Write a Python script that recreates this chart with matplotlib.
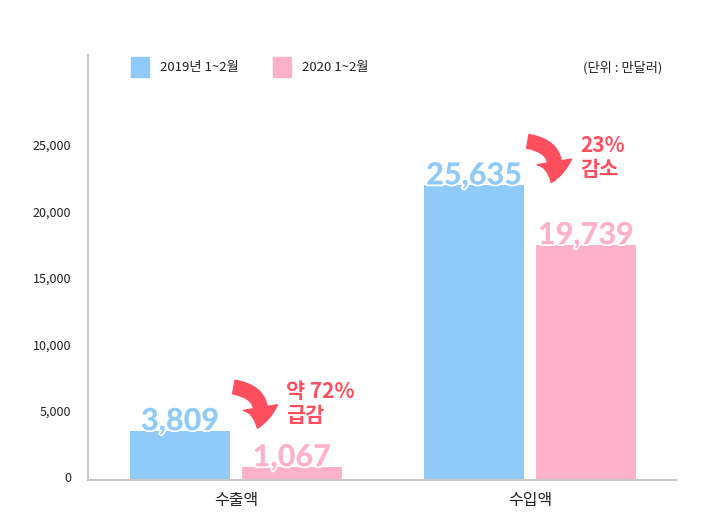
import matplotlib
matplotlib.use('Agg')
import matplotlib.pyplot as plt
import matplotlib.patheffects as pe
import matplotlib.transforms as mtransforms
from matplotlib.patches import FancyArrowPatch, Rectangle

plt.rcParams['font.family'] = ['Noto Sans CJK KR', 'DejaVu Sans']

# data
categories = ['수출액', '수입액']
series_names = ['2019년 1~2월', '2020 1~2월']
# bar heights as drawn against the y axis
heights_2019 = [3700, 22200]
heights_2020 = [980, 17700]
# value labels printed on the bars
labels_2019 = ['3,809', '25,635']
labels_2020 = ['1,067', '19,739']
change_notes = ['약 72%\n급감', '23%\n감소']
yticks = [0, 5000, 10000, 15000, 20000, 25000]

blue = '#90CAF9'
pink = '#FFB0CB'
red = '#FF4F5E'
grid_gray = '#c8c8c8'

fig = plt.figure(figsize=(7.1, 5.31), dpi=100)
ax = fig.add_axes([88 / 710, 51 / 531, 588 / 710, 425 / 531])

bw = 0.34
off = 0.19
x = list(range(len(categories)))
ax.bar([i - off for i in x], heights_2019, width=bw, color=blue, zorder=2)
ax.bar([i + off for i in x], heights_2020, width=bw, color=pink, zorder=2)

ax.set_xlim(-0.503, 1.497)
ax.set_ylim(0, 32000)

stroke = [pe.withStroke(linewidth=2.5, foreground='white')]
num_font = ['Lato', 'DejaVu Sans']
for i in x:
    ax.text(i - off, heights_2019[i] + 50, labels_2019[i], ha='center', va='baseline',
            fontsize=22, fontweight='black', color=blue, zorder=3,
            family=num_font, path_effects=stroke)
    ax.text(i + off, heights_2020[i] + 50, labels_2020[i], ha='center', va='baseline',
            fontsize=22, fontweight='black', color=pink, zorder=3,
            family=num_font, path_effects=stroke)

    # curved arrow between the two bars
    top = heights_2019[i]
    start = (i - 0.007, top + 3300)
    end = (i + 0.073, top + 200)
    arr = FancyArrowPatch(start, end, connectionstyle='arc3,rad=-0.6',
                          arrowstyle='simple,head_width=25,head_length=15,tail_width=10',
                          color=red, zorder=4, mutation_scale=1, shrinkA=0, shrinkB=0)
    ax.add_patch(arr)
    ax.text(i + 0.172, top + 3750, change_notes[i], ha='left', va='top',
            fontsize=15, fontweight='black', color=red, linespacing=1.15)

ax.set_xticks(x)
ax.set_xticklabels(categories, fontsize=11.5, color='#222222')
ax.set_yticks(yticks)
ax.set_yticklabels([f'{v:,}' for v in yticks], fontsize=9, color='#222222')
ax.tick_params(axis='both', length=0)
ax.tick_params(axis='y', pad=12)
ax.tick_params(axis='x', pad=9)
shift = mtransforms.ScaledTranslation(0, 3 / 100, fig.dpi_scale_trans)
for lab in ax.get_yticklabels():
    lab.set_transform(lab.get_transform() + shift)

for s in ['top', 'right']:
    ax.spines[s].set_visible(False)
for s in ['left', 'bottom']:
    ax.spines[s].set_color(grid_gray)
    ax.spines[s].set_linewidth(1.5)

# legend drawn by hand
for name, color, px in [(series_names[0], blue, 131), (series_names[1], pink, 273)]:
    fig.patches.append(Rectangle((px / 710, 1 - 77 / 531), 18 / 710, 20 / 531,
                                 transform=fig.transFigure, color=color))
    fig.text((px + 29) / 710, 1 - 68 / 531, name, ha='left', va='center',
             fontsize=9.5, color='#222222')
fig.text(662 / 710, 1 - 68 / 531, '(단위 : 만달러)', ha='right', va='center',
         fontsize=9.5, color='#222222')

fig.savefig('out.png', dpi=100)
